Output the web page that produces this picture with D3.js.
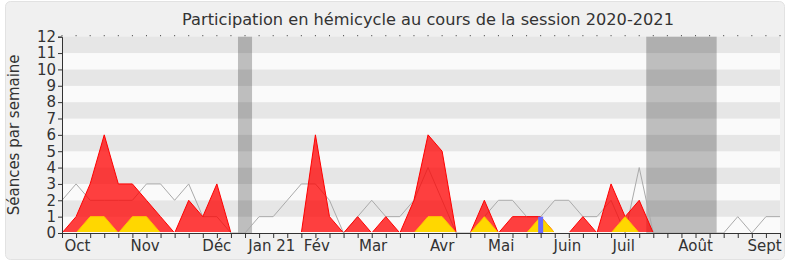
<!DOCTYPE html>
<html lang="fr">
<head>
  <meta charset="utf-8">
  <title>Participation hémicycle</title>
  <style>
    body { margin: 0; background: #fff; }
    text { font-family: "DejaVu Sans", sans-serif; fill: #333; }
  </style>
</head>
<body>
  <script src="https://d3js.org/d3.v7.min.js"></script>
  <svg></svg>
  <script>

// one value per week, session 2020-2021 (52 weeks)
var presences = [0,1,3,6,3,3,2,1,0,2,1,3,0,0,0,0,0,0,6,1,0,1,0,1,0,2,6,5,0,0,2,0,1,1,1,0,0,1,0,3,1,2,0,0,0,0,0,0,0,0,0,0];
var interventions = [0,0,1,1,0,1,1,0,0,0,0,0,0,0,0,0,0,0,0,0,0,0,0,0,0,0,1,1,0,0,1,0,0,0,1,0,0,0,0,0,1,0,0,0,0,0,0,0,0,0,0,0];
var questions = [0,0,0,0,0,0,0,0,0,0,0,0,0,0,0,0,0,0,0,0,0,0,0,0,0,0,0,0,0,0,0,0,0,0,1,0,0,0,0,0,0,0,0,0,0,0,0,0,0,0,0,0];
var mediane = [2,3,2,2,2,2,3,3,2,3,1,1,0,0,1,1,2,3,3,2,0,1,2,1,1,2,4,2,0,0,1,2,2,1,1,2,2,1,1,2,0,4,0,0,0,0,0,0,1,0,1,1];
// parliamentary breaks, in weeks
var vacances = [[12.5, 13.5], [41.5, 46.5]];
// month labels and where they sit (week index)
var moisLabels = ['Oct','Nov','Déc','Jan 21','Fév','Mar','Avr','Mai','Juin','Juil','Août','Sept'];
var moisSemaine = [1.1, 5.9, 11, 14.9, 18.1, 22.1, 27, 31.2, 35.9, 39.9, 45, 49.9];
var yTicks = [0,1,2,3,4,5,6,7,8,9,10,11,12];

var width = 790, height = 267;
var margins = {top: 36.7, right: 10, bottom: 34, left: 62};

var svg = d3.select('svg')
            .attr('width', width)
            .attr('height', height);

// panel
svg.append('rect')
   .attr('x', 5.5).attr('y', 1.5)
   .attr('width', 779).attr('height', 258)
   .attr('rx', 5)
   .attr('fill', '#f0f0f0')
   .attr('stroke', '#e2e2e2');

var x = d3.scaleLinear().domain([0, presences.length - 1]).range([margins.left, 780]);
var y = d3.scaleLinear().domain([0, 12]).range([height - margins.bottom, margins.top]);

// keep the area strokes off the baseline
svg.append('clipPath').attr('id', 'plot')
   .append('rect')
   .attr('x', 0).attr('y', 0)
   .attr('width', width).attr('height', y(0) - 1);

// background stripes
svg.append('g').selectAll('rect')
   .data(d3.range(12))
   .enter().append('rect')
   .attr('x', x(0))
   .attr('y', function(d) { return y(d + 1); })
   .attr('width', x(51) - x(0))
   .attr('height', function(d) { return y(d) - y(d + 1); })
   .attr('fill', function(d) { return d % 2 ? '#e6e6e6' : '#fafafa'; });

// vacations
svg.append('g').selectAll('rect')
   .data(vacances)
   .enter().append('rect')
   .attr('x', function(d) { return x(d[0]); })
   .attr('y', y(12))
   .attr('width', function(d) { return x(d[1]) - x(d[0]); })
   .attr('height', y(0) - y(12))
   .attr('fill', '#000')
   .attr('fill-opacity', 0.24);

// median line of all deputies
var line = d3.line().x(function(d, i) { return x(i); }).y(function(d) { return y(d); });
svg.append('path')
   .datum(mediane)
   .attr('d', line)
   .attr('fill', 'none')
   .attr('stroke', '#aaa')
   .attr('stroke-width', 1);

var area = d3.area().x(function(d, i) { return x(i); }).y0(y(0)).y1(function(d) { return y(d); });

var marks = svg.append('g').attr('clip-path', 'url(#plot)');

marks.append('path')
   .datum(presences)
   .attr('d', area)
   .attr('fill', '#ff0000')
   .attr('fill-opacity', 0.75)
   .attr('stroke', '#ff0000')
   .attr('stroke-width', 1);

marks.append('path')
   .datum(interventions)
   .attr('d', area)
   .attr('fill', '#ffd700')
   .attr('stroke', '#ffc400')
   .attr('stroke-width', 1);

// oral questions
svg.append('g').selectAll('rect')
   .data(questions)
   .enter().append('rect')
   .attr('x', function(d, i) { return x(i) - 2.5; })
   .attr('y', function(d) { return y(d); })
   .attr('width', 5)
   .attr('height', function(d) { return y(0) - y(d); })
   .attr('fill', '#6b6bff');

// Y axis
var yAxis = svg.append('g')
   .attr('transform', 'translate(' + margins.left + ',0)')
   .call(d3.axisLeft(y).tickValues(yTicks).tickSize(4).tickPadding(2));
yAxis.selectAll('text').style('font-size', '15px');
yAxis.selectAll('line, path').attr('stroke', '#333');

// X axis (weekly ticks)
var xAxis = svg.append('g')
   .attr('transform', 'translate(0,' + y(0) + ')')
   .call(d3.axisBottom(x).ticks(0).tickValues(d3.range(52)).tickSize(5).tickFormat(''));
xAxis.selectAll('line, path').attr('stroke', '#333');
xAxis.select('path').attr('d', 'M' + x(0) + ',0.5H' + x(51));

// small ticks on top
svg.append('g').selectAll('line')
   .data(d3.range(52))
   .enter().append('line')
   .attr('x1', function(d) { return x(d); })
   .attr('x2', function(d) { return x(d); })
   .attr('y1', y(12) - 1.5).attr('y2', y(12) - 0.5)
   .attr('stroke', '#333');

// month labels
svg.append('g').selectAll('text')
   .data(moisLabels)
   .enter().append('text')
   .attr('x', function(d, i) { return x(moisSemaine[i]); })
   .attr('y', 251)
   .attr('text-anchor', 'middle')
   .style('font-size', '15px')
   .text(function(d) { return d; });

// Y label
svg.append('text')
   .attr('transform', 'translate(19,' + ((y(0) + y(12)) / 2) + ') rotate(-90)')
   .attr('text-anchor', 'middle')
   .style('font-size', '15px')
   .text('Séances par semaine');

// title
svg.append('text')
   .attr('x', 428)
   .attr('y', 25)
   .attr('text-anchor', 'middle')
   .style('font-size', '16.2px')
   .text('Participation en hémicycle au cours de la session 2020-2021');

  </script>
</body>
</html>
